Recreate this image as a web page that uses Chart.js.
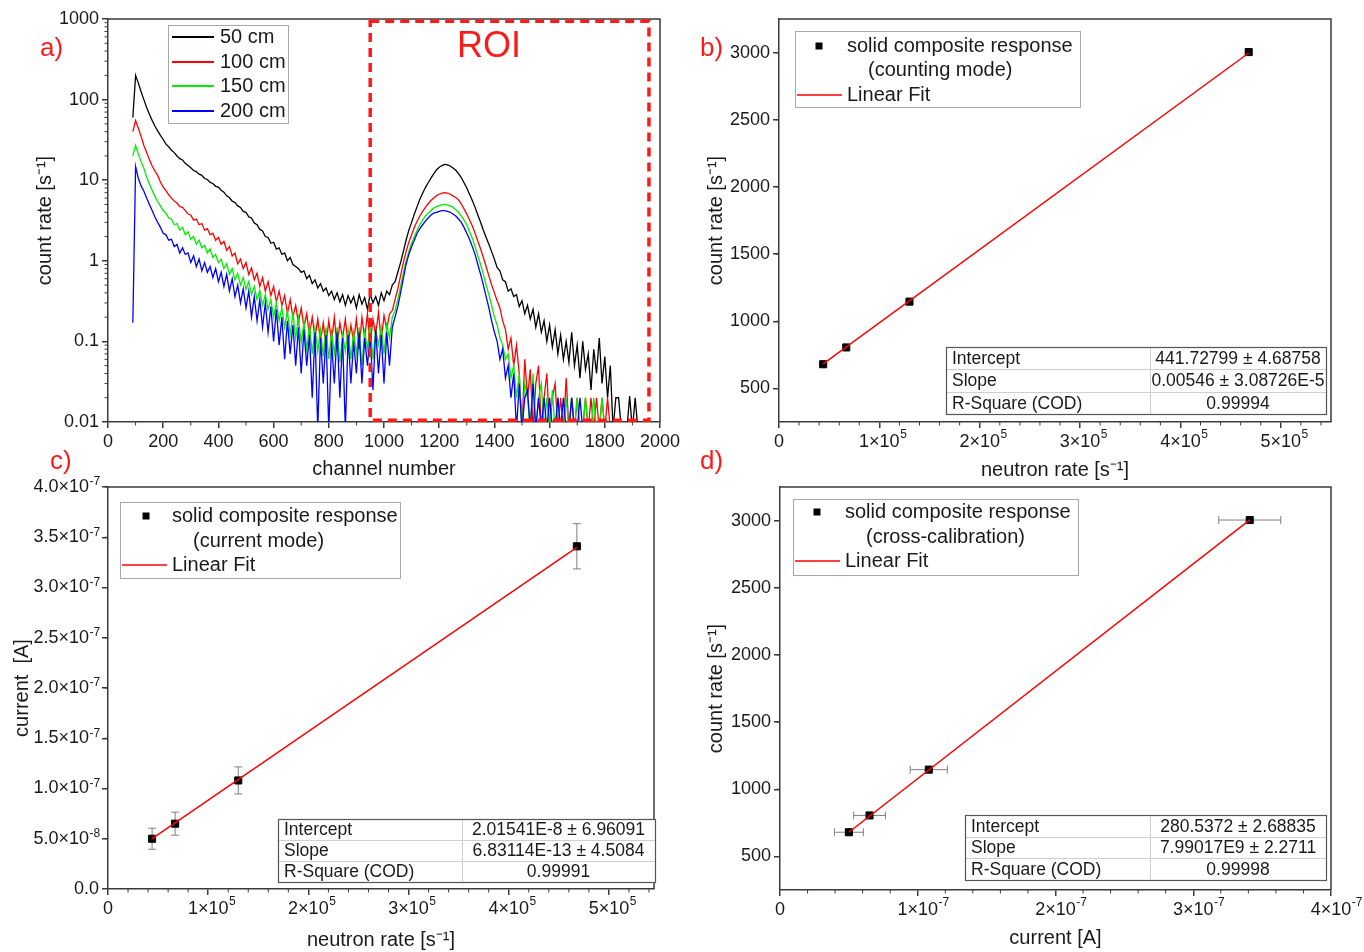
<!DOCTYPE html>
<html>
<head>
<meta charset="utf-8">
<script src="https://cdn.jsdelivr.net/npm/chart.js@4.4.0/dist/chart.umd.min.js"></script>
<style>
  body { margin: 0; background: #fff; }
  #wrap { position: relative; width: 1364px; height: 952px; overflow: hidden; font-family: "Liberation Sans", Arial, sans-serif; }
  canvas { position: absolute; }
  .tag { position: absolute; color: #ff1a1a; font-size: 26px; line-height: 26px; }
</style>
</head>
<body>
<div id="wrap">
  <canvas id="cA" width="682" height="482" style="left:0;top:0"></canvas>
  <canvas id="cB" width="682" height="482" style="left:682px;top:0"></canvas>
  <canvas id="cC" width="682" height="486" style="left:0;top:466px"></canvas>
  <canvas id="cD" width="682" height="486" style="left:682px;top:466px"></canvas>
  <div class="tag" style="left:40px;top:34px">a)</div>
  <div class="tag" style="left:700px;top:34px">b)</div>
  <div class="tag" style="left:50px;top:447px">c)</div>
  <div class="tag" style="left:700px;top:447px">d)</div>
</div>
<script>
// ---- panel a: pulse height spectra (channel step 10) ----
const channels = [
  90,100,110,120,130,140,150,160,170,180,
  190,200,210,220,230,240,250,260,270,280,
  290,300,310,320,330,340,350,360,370,380,
  390,400,410,420,430,440,450,460,470,480,
  490,500,510,520,530,540,550,560,570,580,
  590,600,610,620,630,640,650,660,670,680,
  690,700,710,720,730,740,750,760,770,780,
  790,800,810,820,830,840,850,860,870,880,
  890,900,910,920,930,940,950,960,970,980,
  990,1000,1010,1020,1030,1040,1050,1060,1070,1080,
  1090,1100,1110,1120,1130,1140,1150,1160,1170,1180,
  1190,1200,1210,1220,1230,1240,1250,1260,1270,1280,
  1290,1300,1310,1320,1330,1340,1350,1360,1370,1380,
  1390,1400,1410,1420,1430,1440,1450,1460,1470,1480,
  1490,1500,1510,1520,1530,1540,1550,1560,1570,1580,
  1590,1600,1610,1620,1630,1640,1650,1660,1670,1680,
  1690,1700,1710,1720,1730,1740,1750,1760,1770,1780,
  1790,1800,1810,1820,1830,1840,1850,1860,1870,1880,
  1890,1900,1910,1920
];

const rate50 = [
  60, 200, 160, 125, 100, 80, 66, 55, 47, 41,
  36, 32, 28, 26, 23.5, 22, 20, 18.5, 17.8, 16.2,
  15.2, 14.3, 13.2, 12.8, 11.9, 11.5, 10.5, 10.2, 9.4, 9.1,
  8.4, 8.2, 7.5, 7.1, 6.4, 6.1, 5.5, 5.3, 4.8, 4.6,
  4.1, 4.0, 3.5, 3.4, 2.95, 2.8, 2.45, 2.35, 2.0, 1.95,
  1.65, 1.7, 1.4, 1.45, 1.2, 1.25, 1.0, 1.1, 0.9, 0.85,
  0.8, 0.72, 0.75, 0.6, 0.66, 0.52, 0.58, 0.46, 0.52, 0.42,
  0.46, 0.37, 0.42, 0.33, 0.4, 0.31, 0.38, 0.28, 0.37, 0.3,
  0.36, 0.26, 0.38, 0.29, 0.35, 0.25, 0.39, 0.3, 0.36, 0.28,
  0.4, 0.32, 0.42, 0.38, 0.5, 0.55, 0.72, 0.95, 1.3, 1.8,
  2.4, 3.0, 3.8, 4.7, 5.8, 6.9, 8.1, 9.3, 10.6, 12,
  13.4, 14.5, 15.2, 15.7, 15.5, 15, 14.2, 13.3, 12.1, 10.8,
  9.3, 8.0, 6.7, 5.6, 4.6, 3.7, 3.0, 2.4, 1.95, 1.6,
  1.3, 1.05, 0.82, 0.75, 0.58, 0.55, 0.42, 0.45, 0.36, 0.38,
  0.27, 0.32, 0.22, 0.28, 0.19, 0.25, 0.15, 0.22, 0.13, 0.18,
  0.1, 0.16, 0.085, 0.14, 0.07, 0.12, 0.06, 0.1, 0.055, 0.13,
  0.05, 0.09, 0.035, 0.1, 0.045, 0.07, 0.025, 0.08, 0.04, 0.11,
  0.03, 0.065, 0.02, 0.05, 0.008, 0.02, 0.02, 0.008, 0.008, 0.008,
  0.021, 0.008, 0.02, 0.008
];

const rate100 = [
  40, 55, 44, 35, 27, 22, 18, 15, 13, 11.5,
  9.5, 8.2, 7.4, 6.6, 6.0, 5.5, 5.2, 4.7, 4.6, 4.2,
  3.8, 3.7, 3.2, 3.3, 2.8, 2.9, 2.4, 2.5, 2.1, 2.2,
  1.8, 1.95, 1.6, 1.75, 1.35, 1.5, 1.15, 1.25, 0.92, 1.05,
  0.8, 0.95, 0.68, 0.82, 0.58, 0.7, 0.48, 0.62, 0.42, 0.55,
  0.37, 0.48, 0.31, 0.42, 0.28, 0.37, 0.22, 0.33, 0.2, 0.28,
  0.17, 0.26, 0.15, 0.22, 0.12, 0.2, 0.11, 0.19, 0.1, 0.17,
  0.09, 0.18, 0.1, 0.2, 0.085, 0.17, 0.11, 0.19, 0.09, 0.16,
  0.1, 0.19, 0.08, 0.2, 0.11, 0.22, 0.09, 0.19, 0.12, 0.23,
  0.1, 0.21, 0.14, 0.22, 0.24, 0.33, 0.45, 0.65, 0.95, 1.3,
  1.7, 2.1, 2.6, 3.1, 3.6, 4.1, 4.6, 5.1, 5.6, 6.0,
  6.4, 6.7, 6.9, 7.0, 6.9, 6.7, 6.4, 6.1, 5.7, 5.1,
  4.4, 3.8, 3.2, 2.7, 2.2, 1.75, 1.4, 1.1, 0.85, 0.65,
  0.5, 0.4, 0.32, 0.26, 0.18, 0.14, 0.08, 0.11, 0.05, 0.09,
  0.04, 0.008, 0.06, 0.02, 0.045, 0.008, 0.03, 0.05, 0.008, 0.02,
  0.04, 0.008, 0.02, 0.03, 0.008, 0.02, 0.008, 0.035, 0.008, 0.02,
  0.008, 0.02, 0.008, 0.008, 0.02, 0.008, 0.02, 0.008, 0.02, 0.008,
  0.02, 0.008, 0.02, 0.008
];

const rate150 = [
  20, 27, 21, 17, 14, 11, 9, 7.5, 6.3, 5.4,
  4.8, 4.2, 3.9, 3.4, 3.3, 2.8, 2.9, 2.4, 2.6, 2.1,
  2.3, 1.85, 2.0, 1.6, 1.8, 1.45, 1.55, 1.25, 1.4, 1.1,
  1.2, 0.95, 1.05, 0.8, 0.92, 0.68, 0.8, 0.58, 0.7, 0.5,
  0.62, 0.44, 0.55, 0.38, 0.48, 0.33, 0.43, 0.28, 0.38, 0.25,
  0.33, 0.2, 0.3, 0.18, 0.26, 0.15, 0.24, 0.12, 0.22, 0.11,
  0.2, 0.095, 0.17, 0.08, 0.16, 0.07, 0.15, 0.075, 0.14, 0.065,
  0.15, 0.06, 0.13, 0.07, 0.15, 0.055, 0.12, 0.075, 0.14, 0.06,
  0.13, 0.07, 0.15, 0.05, 0.13, 0.08, 0.16, 0.06, 0.14, 0.09,
  0.15, 0.07, 0.16, 0.11, 0.2, 0.24, 0.33, 0.48, 0.7, 1.0,
  1.3, 1.65, 2.0, 2.4, 2.8, 3.2, 3.6, 3.9, 4.2, 4.5,
  4.7, 4.85, 4.95, 5.0, 4.9, 4.8, 4.6, 4.3, 4.0, 3.6,
  3.2, 2.8, 2.3, 1.9, 1.5, 1.15, 0.9, 0.68, 0.5, 0.38,
  0.28, 0.2, 0.16, 0.11, 0.09, 0.06, 0.07, 0.035, 0.05, 0.02,
  0.04, 0.008, 0.03, 0.02, 0.008, 0.04, 0.008, 0.02, 0.03, 0.008,
  0.02, 0.008, 0.025, 0.008, 0.02, 0.008, 0.008, 0.02, 0.008, 0.02,
  0.008, 0.02, 0.008, 0.008, 0.02, 0.008, 0.008, 0.02, 0.008, 0.008,
  0.02, 0.008
];

const rate200 = [
  0.17, 14.8, 10.5, 8.5, 7.3, 6.0, 5.0, 4.2, 3.5, 3.0,
  2.6, 2.2, 2.1, 1.8, 1.85, 1.5, 1.6, 1.25, 1.45, 1.2,
  1.25, 0.95, 1.15, 0.85, 1.05, 0.75, 0.95, 0.72, 0.85, 0.62,
  0.8, 0.55, 0.72, 0.48, 0.68, 0.42, 0.6, 0.36, 0.5, 0.3,
  0.45, 0.26, 0.42, 0.2, 0.36, 0.18, 0.33, 0.15, 0.3, 0.13,
  0.27, 0.1, 0.25, 0.09, 0.2, 0.06, 0.18, 0.07, 0.16, 0.05,
  0.15, 0.04, 0.14, 0.05, 0.12, 0.02, 0.13, 0.008, 0.11, 0.03,
  0.12, 0.008, 0.1, 0.03, 0.13, 0.02, 0.11, 0.008, 0.12, 0.03,
  0.1, 0.04, 0.13, 0.03, 0.11, 0.05, 0.12, 0.025, 0.14, 0.04,
  0.12, 0.03, 0.13, 0.05, 0.15, 0.2, 0.27, 0.4, 0.6, 0.9,
  1.2, 1.5, 1.8, 2.2, 2.5, 2.8, 3.1, 3.4, 3.7, 3.9,
  4.0, 4.1, 4.2, 4.2, 4.1, 4.0, 3.8, 3.6, 3.3, 3.0,
  2.6, 2.2, 1.85, 1.5, 1.2, 0.9, 0.68, 0.5, 0.36, 0.26,
  0.18, 0.13, 0.1, 0.06, 0.08, 0.035, 0.05, 0.02, 0.04, 0.008,
  0.03, 0.008, 0.02, 0.025, 0.008, 0.03, 0.008, 0.02, 0.008, 0.02,
  0.008, 0.02, 0.008, 0.008, 0.02, 0.008, 0.02, 0.008, 0.008, 0.02,
  0.008, 0.008, 0.02, 0.008
];

const spectraNames = ['50 cm', '100 cm', '150 cm', '200 cm'];
const spectraColors = ['#000000', '#ff0000', '#00ee00', '#0000ff'];
const roi = { x0: 950, x1: 1960, y0: 0.0105, y1: 940, labelX: 1380, labelY: 450 };

const chTicks = [0, 200, 400, 600, 800, 1000, 1200, 1400, 1600, 1800, 2000];
const chLabels = ['0', '200', '400', '600', '800', '1000', '1200', '1400', '1600', '1800', '2000'];
const logTicks = [0.01, 0.1, 1, 10, 100, 1000];
const logLabels = ['0.01', '0.1', '1', '10', '100', '1000'];

// ---- panels b-d: calibration points ----
const neutronRate = [4.4e4, 6.7e4, 1.3e5, 4.68e5];
const countRate = [680, 805, 1146, 3004];
const currentA = [5.0e-8, 6.5e-8, 1.08e-7, 3.41e-7];
const currentErr = [1.05e-8, 1.15e-8, 1.35e-8, 2.25e-8];

const fitB = [[4.4e4, 682], [4.68e5, 2997]];
const fitC = [[4.4e4, 5.02e-8], [4.68e5, 3.40e-7]];
const fitD = [[5.0e-8, 680], [3.41e-7, 3005]];

const tableB = [['Intercept', '441.72799 ± 4.68758'], ['Slope', '0.00546 ± 3.08726E-5'], ['R-Square (COD)', '0.99994']];
const tableC = [['Intercept', '2.01541E-8 ± 6.96091'], ['Slope', '6.83114E-13 ± 4.5084'], ['R-Square (COD)', '0.99991']];
const tableD = [['Intercept', '280.5372 ± 2.68835'], ['Slope', '7.99017E9 ± 2.2711'], ['R-Square (COD)', '0.99998']];

// tick labels: the part after ^ is drawn as a superscript
const nTicks = [0, 1e5, 2e5, 3e5, 4e5, 5e5];
const nLabels = ['0', '1×10^5', '2×10^5', '3×10^5', '4×10^5', '5×10^5'];
const cntTicks = [500, 1000, 1500, 2000, 2500, 3000];
const cntLabels = ['500', '1000', '1500', '2000', '2500', '3000'];
const curTicks = [0, 5e-8, 1e-7, 1.5e-7, 2e-7, 2.5e-7, 3e-7, 3.5e-7, 4e-7];
const curLabels = ['0.0', '5.0×10^-8', '1.0×10^-7', '1.5×10^-7', '2.0×10^-7', '2.5×10^-7', '3.0×10^-7', '3.5×10^-7', '4.0×10^-7'];
const curXTicks = [0, 1e-7, 2e-7, 3e-7, 4e-7];
const curXLabels = ['0', '1×10^-7', '2×10^-7', '3×10^-7', '4×10^-7'];

// ---- helpers ----
const FONT = '"Liberation Sans", Arial, sans-serif';
const INK = '#1a1a1a';
const AXIS = '#3a3a3a';
const EXP_GAP = '  ';
Chart.defaults.font.family = FONT;
Chart.defaults.color = INK;

function splitLabel(s) {
  const p = s.split('^');
  return { base: p[0], exp: p[1] || '' };
}

function steps(from, to, step, skip) {
  const out = [];
  for (let v = from; v < to - step * 1e-6; v += step) {
    const k = Math.round(v / step);
    if (k % skip !== 0) out.push(k * step);
  }
  return out;
}
function logMinor() {
  const out = [];
  [0.01, 0.1, 1, 10, 100].forEach(d => { for (let m = 2; m <= 9; m++) out.push(m * d); });
  return out;
}

function axis(o) {
  const vertical = o.position === 'left';
  return {
    type: o.type || 'linear',
    position: o.position,
    min: o.min, max: o.max,
    afterBuildTicks: s => { s.ticks = o.ticks.map(v => ({ value: v })); },
    afterFit: s => {
      if (s.isHorizontal()) s.height = o.size; else s.width = o.size;
      s.paddingLeft = s.paddingRight = s.paddingTop = s.paddingBottom = 0;
    },
    ticks: { autoSkip: false, maxRotation: 0, minRotation: 0, padding: 3, color: INK,
             font: { size: 18 },
             callback: (v, i) => {
               const l = splitLabel(o.labels[i]);
               return (vertical && l.exp) ? l.base + EXP_GAP : l.base;
             } },
    grid: { display: true, drawOnChartArea: false, drawTicks: true, tickLength: 6, color: AXIS, lineWidth: 1.5 },
    border: { display: true, color: AXIS, width: 1.5 },
    title: { display: true, text: o.title, color: INK, font: { size: 20 }, padding: o.tpad }
  };
}

function decor(cfg) {
  return {
    id: 'decor',
    beforeDatasetsDraw(chart) {
      const ctx = chart.ctx, a = chart.chartArea, xs = chart.scales.x, ys = chart.scales.y;
      ctx.save();
      ctx.strokeStyle = AXIS;
      ctx.lineWidth = 1.5;
      ctx.beginPath();
      ctx.moveTo(a.left, a.top); ctx.lineTo(a.right, a.top); ctx.lineTo(a.right, a.bottom);
      ctx.stroke();
      ctx.lineWidth = 1;
      ctx.beginPath();
      cfg.minorX.forEach(v => { const p = xs.getPixelForValue(v); ctx.moveTo(p, a.bottom); ctx.lineTo(p, a.bottom + 3.5); });
      cfg.minorY.forEach(v => { const p = ys.getPixelForValue(v); ctx.moveTo(a.left, p); ctx.lineTo(a.left - 3.5, p); });
      ctx.stroke();
      if (cfg.err) {
        const e = cfg.err;
        ctx.strokeStyle = '#808080';
        ctx.lineWidth = 1;
        ctx.beginPath();
        e.x.forEach((xv, i) => {
          const px = xs.getPixelForValue(xv), py = ys.getPixelForValue(e.y[i]);
          if (e.ey) {
            const p1 = ys.getPixelForValue(e.y[i] - e.ey[i]), p2 = ys.getPixelForValue(e.y[i] + e.ey[i]);
            ctx.moveTo(px, p1); ctx.lineTo(px, p2);
            ctx.moveTo(px - 4, p1); ctx.lineTo(px + 4, p1);
            ctx.moveTo(px - 4, p2); ctx.lineTo(px + 4, p2);
          }
          if (e.ex) {
            const q1 = xs.getPixelForValue(xv - e.ex[i]), q2 = xs.getPixelForValue(xv + e.ex[i]);
            ctx.moveTo(q1, py); ctx.lineTo(q2, py);
            ctx.moveTo(q1, py - 4); ctx.lineTo(q1, py + 4);
            ctx.moveTo(q2, py - 4); ctx.lineTo(q2, py + 4);
          }
        });
        ctx.stroke();
      }
      ctx.restore();
    },
    afterDraw(chart) {
      const ctx = chart.ctx, a = chart.chartArea, xs = chart.scales.x, ys = chart.scales.y;
      ctx.save();
      // superscript exponents of the tick labels
      if (cfg.labels) {
        ctx.fillStyle = INK;
        ctx.textAlign = 'left';
        ctx.textBaseline = 'top';
        ['x', 'y'].forEach(id => {
          const labels = cfg.labels[id];
          if (!labels) return;
          const s = chart.scales[id];
          s.ticks.forEach((t, i) => {
            const l = splitLabel(labels[i]);
            if (!l.exp) return;
            ctx.font = '18px ' + FONT;
            if (id === 'x') {
              const w = ctx.measureText(l.base).width;
              const px = s.getPixelForValue(t.value);
              ctx.font = '12px ' + FONT;
              ctx.fillText(l.exp, px + w / 2 + 0.5, a.bottom + 7);
            } else {
              const gap = ctx.measureText(EXP_GAP).width;
              const py = s.getPixelForValue(t.value);
              ctx.font = '12px ' + FONT;
              ctx.fillText(l.exp, a.left - 9 - gap + 0.5, py - 11);
            }
          });
        });
      }
      ctx.textBaseline = 'middle';
      if (cfg.roi) {
        const r = cfg.roi;
        const x0 = xs.getPixelForValue(r.x0), x1 = xs.getPixelForValue(r.x1);
        const y0 = ys.getPixelForValue(r.y0), y1 = ys.getPixelForValue(r.y1);
        ctx.strokeStyle = '#ff1a1a';
        ctx.lineWidth = 3.5;
        ctx.setLineDash([9, 6]);
        ctx.strokeRect(x0, y1, x1 - x0, y0 - y1);
        ctx.setLineDash([]);
        ctx.fillStyle = '#ff1a1a';
        ctx.font = '36px ' + FONT;
        ctx.textAlign = 'center';
        ctx.fillText('ROI', xs.getPixelForValue(r.labelX), ys.getPixelForValue(r.labelY));
      }
      if (cfg.spectraLegend) {
        const L = cfg.spectraLegend;
        ctx.fillStyle = '#fff';
        ctx.fillRect(a.left + L.box[0], a.top + L.box[1], L.box[2], L.box[3]);
        ctx.strokeStyle = '#a8a8a8';
        ctx.lineWidth = 1;
        ctx.strokeRect(a.left + L.box[0] + 0.5, a.top + L.box[1] + 0.5, L.box[2], L.box[3]);
        ctx.font = '20px ' + FONT;
        ctx.textAlign = 'left';
        spectraNames.forEach((name, i) => {
          const y = a.top + L.rows[i];
          ctx.strokeStyle = spectraColors[i];
          ctx.lineWidth = 2;
          ctx.beginPath(); ctx.moveTo(a.left + L.line[0], y); ctx.lineTo(a.left + L.line[1], y); ctx.stroke();
          ctx.fillStyle = INK;
          ctx.fillText(name, a.left + L.text, y);
        });
      }
      if (cfg.fitLegend) {
        const L = cfg.fitLegend;
        ctx.fillStyle = '#fff';
        ctx.fillRect(a.left + L.box[0], a.top + L.box[1], L.box[2], L.box[3]);
        ctx.strokeStyle = '#a8a8a8';
        ctx.lineWidth = 1;
        ctx.strokeRect(a.left + L.box[0] + 0.5, a.top + L.box[1] + 0.5, L.box[2], L.box[3]);
        ctx.fillStyle = '#000';
        ctx.fillRect(a.left + L.marker[0] - 3.5, a.top + L.marker[1] - 3.5, 7, 7);
        ctx.font = '20px ' + FONT;
        ctx.textAlign = 'left';
        ctx.fillStyle = INK;
        ctx.fillText('solid composite response', a.left + L.text, a.top + L.marker[1]);
        ctx.fillText(L.sub, a.left + L.sub2[0], a.top + L.sub2[1]);
        ctx.strokeStyle = '#ff0000';
        ctx.lineWidth = 1.5;
        ctx.beginPath(); ctx.moveTo(a.left + L.line[0], a.top + L.line[2]); ctx.lineTo(a.left + L.line[1], a.top + L.line[2]); ctx.stroke();
        ctx.fillText('Linear Fit', a.left + L.text, a.top + L.line[2]);
      }
      if (cfg.table) {
        const T = cfg.table;
        const x = a.left + T.box[0], y = a.top + T.box[1], w = T.box[2], h = T.box[3];
        const rh = h / T.rows.length;
        ctx.fillStyle = '#fff';
        ctx.fillRect(x, y, w, h);
        ctx.strokeStyle = '#cfcfcf';
        ctx.lineWidth = 1;
        ctx.beginPath();
        for (let i = 1; i < T.rows.length; i++) { ctx.moveTo(x, Math.round(y + i * rh) + 0.5); ctx.lineTo(x + w, Math.round(y + i * rh) + 0.5); }
        ctx.moveTo(x + T.split + 0.5, y); ctx.lineTo(x + T.split + 0.5, y + h);
        ctx.stroke();
        ctx.strokeStyle = '#555';
        ctx.lineWidth = 1.2;
        ctx.strokeRect(x + 0.5, y + 0.5, w, h);
        ctx.font = '17.5px ' + FONT;
        ctx.fillStyle = INK;
        T.rows.forEach((row, i) => {
          const cy = y + rh * (i + 0.5) + 1;
          ctx.textAlign = 'left';
          ctx.fillText(row[0], x + 6, cy);
          ctx.textAlign = 'center';
          ctx.fillText(row[1], x + T.split + (w - T.split) / 2, cy);
        });
      }
      ctx.restore();
    }
  };
}

function baseOptions(pad) {
  return {
    responsive: false,
    maintainAspectRatio: false,
    animation: false,
    events: [],
    layout: { padding: pad },
    plugins: { legend: { display: false }, tooltip: { enabled: false } }
  };
}

// ---- panel a ----
new Chart(document.getElementById('cA'), {
  type: 'line',
  data: {
    datasets: [rate50, rate100, rate150, rate200].map((series, k) => ({
      data: series.map((v, i) => ({ x: channels[i], y: v })),
      borderColor: spectraColors[k],
      borderWidth: 1.3,
      pointRadius: 0,
      tension: 0,
      order: 4 - k
    }))
  },
  options: Object.assign(baseOptions({ left: 0, top: 19, right: 22, bottom: 0 }), {
    scales: {
      x: axis({ position: 'bottom', min: 0, max: 2000, ticks: chTicks, labels: chLabels, size: 60,
                title: 'channel number', tpad: { top: 0, bottom: 1 } }),
      y: axis({ type: 'logarithmic', position: 'left', min: 0.01, max: 1000, ticks: logTicks, labels: logLabels, size: 108,
                title: 'count rate [s⁻¹]', tpad: { top: 33, bottom: 0 } })
    }
  }),
  plugins: [decor({
    minorX: steps(0, 2000, 100, 2),
    minorY: logMinor(),
    roi: roi,
    spectraLegend: { box: [60, 6, 120, 98], line: [64, 106], text: 112, rows: [18, 43, 67, 92] }
  })]
});

// ---- panel b ----
new Chart(document.getElementById('cB'), {
  type: 'scatter',
  data: {
    datasets: [
      { data: fitB.map(p => ({ x: p[0], y: p[1] })), showLine: true, borderColor: '#ff0000', borderWidth: 1.5,
        pointRadius: 0, order: 0 },
      { data: neutronRate.map((v, i) => ({ x: v, y: countRate[i] })), pointStyle: 'rect', pointRadius: 5,
        backgroundColor: '#000', borderColor: '#000', borderWidth: 1, order: 1 }
    ]
  },
  options: Object.assign(baseOptions({ left: 0, top: 19, right: 33, bottom: 0 }), {
    scales: {
      x: axis({ position: 'bottom', min: 0, max: 5.5e5, ticks: nTicks, labels: nLabels, size: 60,
                title: 'neutron rate [s⁻¹]', tpad: { top: 0, bottom: 0 } }),
      y: axis({ position: 'left', min: 250, max: 3250, ticks: cntTicks, labels: cntLabels, size: 97,
                title: 'count rate [s⁻¹]', tpad: { top: 22, bottom: 0 } })
    }
  }),
  plugins: [decor({
    minorX: steps(0, 5.5e5, 2e4, 5),
    minorY: steps(750, 3250, 500, 1e9),
    labels: { x: nLabels },
    fitLegend: { box: [16, 12, 285, 76], marker: [40, 27], text: 68, sub: '(counting mode)', sub2: [89, 51], line: [18, 63, 76] },
    table: { box: [167, 328, 380, 67], split: 204, rows: tableB }
  })]
});

// ---- panel c ----
new Chart(document.getElementById('cC'), {
  type: 'scatter',
  data: {
    datasets: [
      { data: fitC.map(p => ({ x: p[0], y: p[1] })), showLine: true, borderColor: '#ff0000', borderWidth: 1.5,
        pointRadius: 0, order: 0 },
      { data: neutronRate.map((v, i) => ({ x: v, y: currentA[i] })), pointStyle: 'rect', pointRadius: 5,
        backgroundColor: '#000', borderColor: '#000', borderWidth: 1, order: 1 }
    ]
  },
  options: Object.assign(baseOptions({ left: 0, top: 21, right: 28, bottom: 0 }), {
    scales: {
      x: axis({ position: 'bottom', min: 0, max: 5.45e5, ticks: nTicks, labels: nLabels, size: 63,
                title: 'neutron rate [s⁻¹]', tpad: { top: 0, bottom: 0 } }),
      y: axis({ position: 'left', min: 0, max: 4e-7, ticks: curTicks, labels: curLabels, size: 108,
                title: 'current  [A]', tpad: { top: 10, bottom: 0 } })
    }
  }),
  plugins: [decor({
    minorX: steps(0, 5.45e5, 2e4, 5),
    minorY: steps(2.5e-8, 4e-7, 5e-8, 1e9),
    labels: { x: nLabels, y: curLabels },
    err: { x: neutronRate, y: currentA, ey: currentErr },
    fitLegend: { box: [12, 15, 280, 76], marker: [38, 29], text: 64, sub: '(current mode)', sub2: [85, 54], line: [14, 59, 78] },
    table: { box: [170, 332, 377, 63], split: 184, rows: tableC }
  })]
});

// ---- panel d ----
new Chart(document.getElementById('cD'), {
  type: 'scatter',
  data: {
    datasets: [
      { data: fitD.map(p => ({ x: p[0], y: p[1] })), showLine: true, borderColor: '#ff0000', borderWidth: 1.5,
        pointRadius: 0, order: 0 },
      { data: currentA.map((v, i) => ({ x: v, y: countRate[i] })), pointStyle: 'rect', pointRadius: 5,
        backgroundColor: '#000', borderColor: '#000', borderWidth: 1, order: 1 }
    ]
  },
  options: Object.assign(baseOptions({ left: 0, top: 21, right: 33, bottom: 0 }), {
    scales: {
      x: axis({ position: 'bottom', min: 0, max: 4e-7, ticks: curXTicks, labels: curXLabels, size: 62,
                title: 'current [A]', tpad: { top: 0, bottom: 2 } }),
      y: axis({ position: 'left', min: 250, max: 3250, ticks: cntTicks, labels: cntLabels, size: 98,
                title: 'count rate [s⁻¹]', tpad: { top: 22, bottom: 0 } })
    }
  }),
  plugins: [decor({
    minorX: steps(0, 4e-7, 2e-8, 5),
    minorY: steps(750, 3250, 500, 1e9),
    labels: { x: curXLabels },
    err: { x: currentA, y: countRate, ex: currentErr },
    fitLegend: { box: [13, 12, 285, 76], marker: [37, 25], text: 65, sub: '(cross-calibration)', sub2: [86, 50], line: [15, 60, 74] },
    table: { box: [185, 328, 361, 65], split: 185, rows: tableD }
  })]
});
</script>
</body>
</html>
